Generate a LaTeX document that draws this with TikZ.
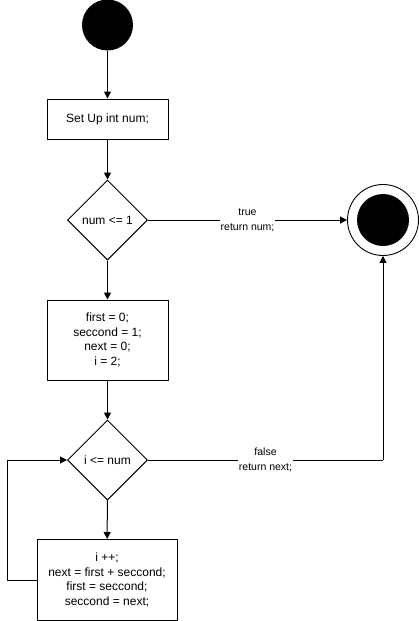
\documentclass[tikz,border=0pt]{standalone}
\usepackage{fontspec}
\setmainfont{Liberation Sans}
\usetikzlibrary{arrows.meta,shapes.geometric}
\begin{document}
\begin{tikzpicture}[x=1pt,y=-1pt,
  every node/.style={font=\fontsize{12}{14.5}\selectfont, text=black},
  procbox/.style={draw, line width=1pt, fill=white, align=center, inner sep=0pt},
  decision/.style={draw, line width=1pt, diamond, aspect=1, minimum width=80pt, minimum height=80pt, inner sep=0pt},
  flow/.style={line width=1pt, -{Triangle[length=7pt,width=7pt]}},
  plain/.style={line width=1pt},
  elabel/.style={fill=white, font=\fontsize{10.5}{15}\selectfont, align=center, inner sep=1pt}
]
\useasboundingbox (0,0) rectangle (418,621);
\node[circle, fill=black, minimum size=51pt, inner sep=0pt] (start) at (107.5,25) {};
\node[procbox, minimum width=121pt, minimum height=40pt] (setup) at (107.5,119) {Set Up int num;};
\node[decision] (d1) at (107.5,220) {num <= 1};
\node[circle, draw, line width=0.9pt, minimum size=71pt, inner sep=0pt] (endo) at (383,220) {};
\node[circle, fill=black, minimum size=52pt, inner sep=0pt] (endi) at (383,220) {};
\node[procbox, minimum width=121pt, minimum height=80pt] (init) at (107.5,340) {first = 0;\\seccond = 1;\\next = 0;\\i = 2;};
\node[decision] (d2) at (107.5,460) {i <= num};
\node[procbox, minimum width=140pt, minimum height=81pt] (body) at (107,580) {i ++;\\next = first + seccond;\\first = seccond;\\seccond = next;};
\coordinate (lpa) at (7,580);
\coordinate (lpb) at (7,460);
\coordinate (fr) at (383,460);

\draw[flow] (start) -- (setup);
\draw[flow] (setup) -- (d1);
\draw[flow] (d1) -- (init);
\draw[flow] (init) -- (d2);
\draw[flow] (d2) -- (body);
\draw[flow] (d1.east) -- node[elabel] {true\\return num;} (endo.west);
\draw[flow] (body.west) -- (lpa) -- (lpb) -- (d2.west);
\draw[plain] (d2.east) -- node[elabel] {false\\return next;} (fr);
\draw[flow] (fr) -- (endo.south);
\end{tikzpicture}
\end{document}
